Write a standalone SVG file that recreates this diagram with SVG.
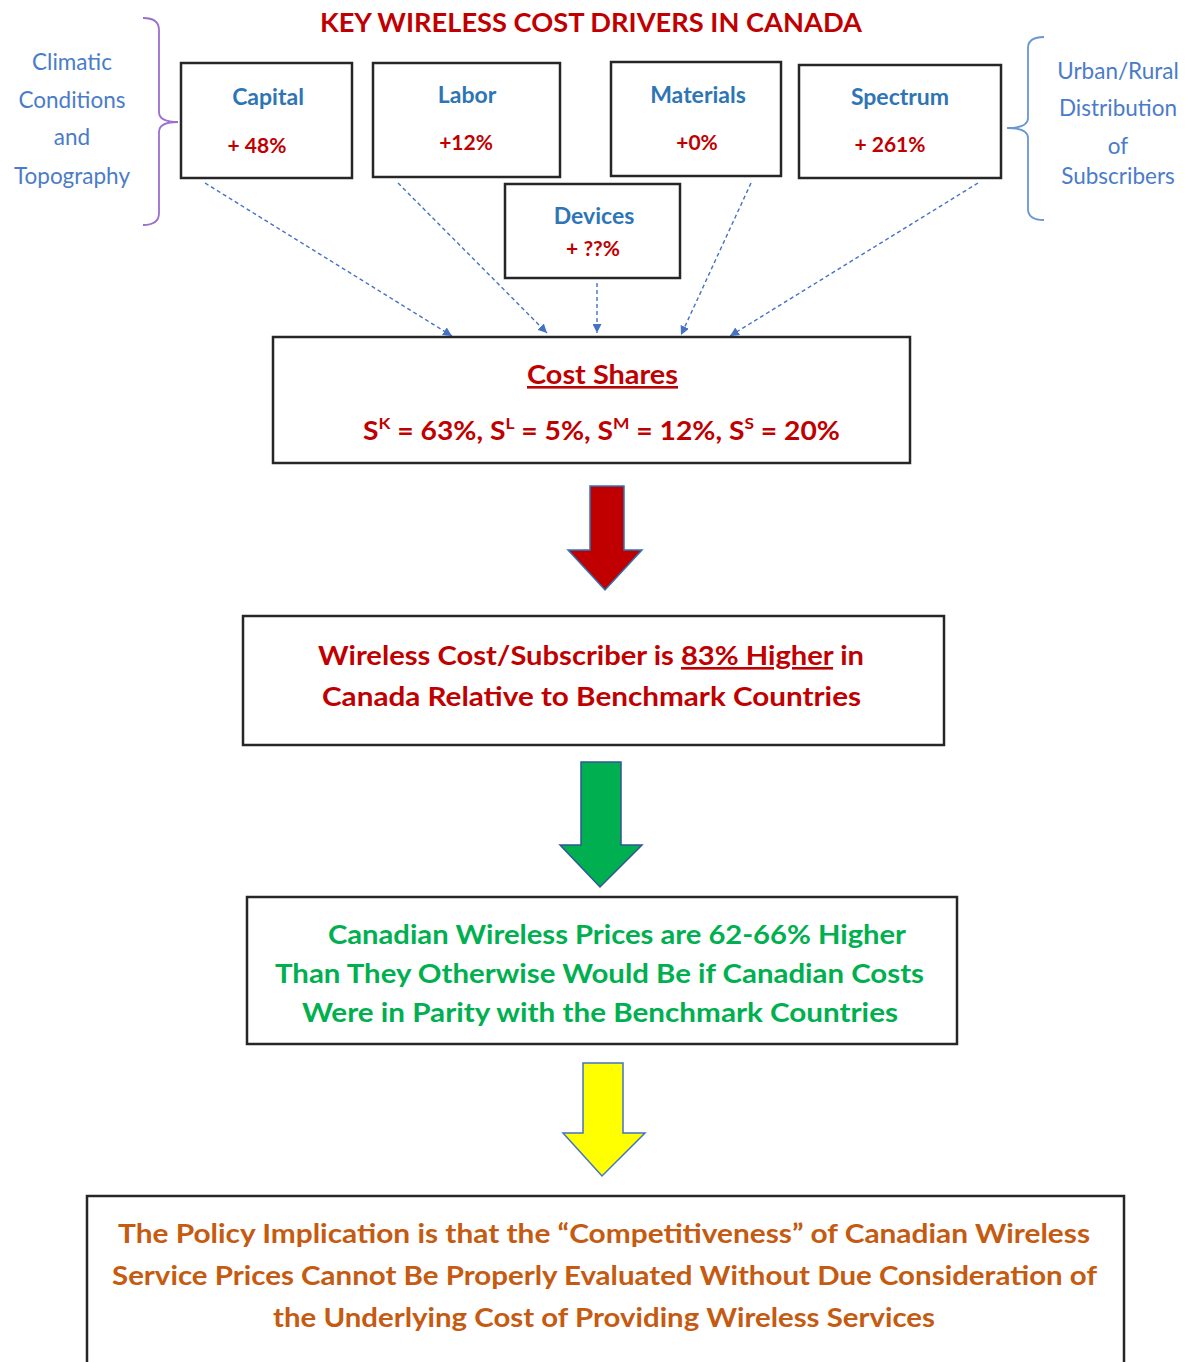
<svg xmlns="http://www.w3.org/2000/svg" width="1188" height="1362" viewBox="0 0 1188 1362">
<style>
  text { font-family: Lato, "Open Sans", "Liberation Sans", sans-serif; }
  .box { fill: #ffffff; stroke: #262626; stroke-width: 2.5; }
  .title { font-weight: bold; fill: #C00000; font-size: 26px; }
  .hdr { font-weight: bold; fill: #2E75B6; font-size: 23px; text-anchor: middle; }
  .pct { font-weight: bold; fill: #C00000; font-size: 21px; text-anchor: middle; }
  .side { fill: #4A7CC9; font-size: 22.5px; text-anchor: middle; }
  .red { font-weight: bold; fill: #C00000; font-size: 26px; }
  .green { font-weight: bold; fill: #00B050; font-size: 26px; }
  .orange { font-weight: bold; fill: #C55A11; font-size: 26px; }
  .dash { fill: none; stroke: #4472C4; stroke-width: 1.4; stroke-dasharray: 4 3; }
</style>
<defs>
  <marker id="ah" viewBox="0 0 10 10" refX="10" refY="5" markerWidth="9" markerHeight="9" markerUnits="userSpaceOnUse" orient="auto">
    <path d="M0,0 L10,5 L0,10 Z" fill="#4472C4"/>
  </marker>
</defs>
<rect width="1188" height="1362" fill="#ffffff"/>

<g id="title">
  <text class="title" x="320" y="32" textLength="542" lengthAdjust="spacingAndGlyphs">KEY WIRELESS COST DRIVERS IN CANADA</text>
</g>

<g id="climatic">
  <path d="M143,18 Q159,18 159,30 L159,112 Q159,122 178,122 Q159,122 159,132 L159,213 Q159,225 143,225" fill="none" stroke="#9B6FD0" stroke-width="1.8"/>
  <text class="side" x="72" y="70">Climatic</text>
  <text class="side" x="72" y="108">Conditions</text>
  <text class="side" x="72" y="145">and</text>
  <text class="side" x="72" y="184">Topography</text>
</g>

<g id="urbanrural">
  <path d="M1044,37 Q1028,37 1028,48 L1028,118 Q1028,128 1007,128 Q1028,128 1028,138 L1028,209 Q1028,220 1044,220" fill="none" stroke="#6A96D6" stroke-width="1.8"/>
  <text class="side" x="1118" y="79">Urban/Rural</text>
  <text class="side" x="1118" y="116">Distribution</text>
  <text class="side" x="1118" y="154">of</text>
  <text class="side" x="1118" y="184">Subscribers</text>
</g>

<g id="capital">
  <rect class="box" x="181" y="63" width="171" height="115"/>
  <text class="hdr" x="268" y="105">Capital</text>
  <text class="pct" x="257" y="153">+ 48%</text>
</g>
<g id="labor">
  <rect class="box" x="373" y="63" width="187" height="114"/>
  <text class="hdr" x="467" y="103">Labor</text>
  <text class="pct" x="466" y="150">+12%</text>
</g>
<g id="materials">
  <rect class="box" x="611" y="62" width="170" height="114"/>
  <text class="hdr" x="698" y="103">Materials</text>
  <text class="pct" x="697" y="150">+0%</text>
</g>
<g id="spectrum">
  <rect class="box" x="799" y="65" width="202" height="113"/>
  <text class="hdr" x="900" y="105">Spectrum</text>
  <text class="pct" x="890" y="152">+ 261%</text>
</g>
<g id="devices">
  <rect class="box" x="505" y="184" width="175" height="94"/>
  <text class="hdr" x="594" y="224">Devices</text>
  <text class="pct" x="593" y="256">+ ??%</text>
</g>

<g id="connectors">
  <line class="dash" x1="205" y1="183" x2="452" y2="336" marker-end="url(#ah)"/>
  <line class="dash" x1="398" y1="183" x2="547" y2="333" marker-end="url(#ah)"/>
  <line class="dash" x1="597" y1="283" x2="597" y2="333" marker-end="url(#ah)"/>
  <line class="dash" x1="751" y1="183" x2="681" y2="335" marker-end="url(#ah)"/>
  <line class="dash" x1="978" y1="183" x2="730" y2="336" marker-end="url(#ah)"/>
  <path d="M590,486 L624,486 L624,550 L642,550 L605,590 L568,550 L590,550 Z" fill="#C00000" stroke="#2E75B6" stroke-width="1.5"/>
  <path d="M581,762 L621,762 L621,845 L642,845 L600,887 L560,845 L581,845 Z" fill="#00B050" stroke="#2F5597" stroke-width="1.5"/>
  <path d="M583,1063 L623,1063 L623,1133 L645,1133 L602,1176 L563,1133 L583,1133 Z" fill="#FFFF00" stroke="#4472C4" stroke-width="1.5"/>
</g>

<g id="costshares">
  <rect class="box" x="273" y="337" width="637" height="126"/>
  <text class="red" x="527" y="384" textLength="151" lengthAdjust="spacingAndGlyphs" text-decoration="underline">Cost Shares</text>
  <text class="red" x="363" y="440" textLength="477" lengthAdjust="spacingAndGlyphs">S<tspan font-size="16" dy="-11">K</tspan><tspan dy="11"> = 63%, S</tspan><tspan font-size="16" dy="-11">L</tspan><tspan dy="11"> = 5%, S</tspan><tspan font-size="16" dy="-11">M</tspan><tspan dy="11"> = 12%, S</tspan><tspan font-size="16" dy="-11">S</tspan><tspan dy="11"> = 20%</tspan></text>
</g>

<g id="costsubscriber">
  <rect class="box" x="243" y="616" width="701" height="129"/>
  <text class="red" x="318" y="665" textLength="546" lengthAdjust="spacingAndGlyphs">Wireless Cost/Subscriber is <tspan text-decoration="underline">83% Higher</tspan> in</text>
  <text class="red" x="322" y="706" textLength="539" lengthAdjust="spacingAndGlyphs">Canada Relative to Benchmark Countries</text>
</g>

<g id="prices">
  <rect class="box" x="247" y="897" width="710" height="147"/>
  <text class="green" x="328" y="944" textLength="578" lengthAdjust="spacingAndGlyphs">Canadian Wireless Prices are 62-66% Higher</text>
  <text class="green" x="275" y="983" textLength="649" lengthAdjust="spacingAndGlyphs">Than They Otherwise Would Be if Canadian Costs</text>
  <text class="green" x="302" y="1022" textLength="596" lengthAdjust="spacingAndGlyphs">Were in Parity with the Benchmark Countries</text>
</g>

<g id="policy">
  <rect class="box" x="87" y="1196" width="1037" height="200"/>
  <text class="orange" x="118" y="1243" textLength="972" lengthAdjust="spacingAndGlyphs">The Policy Implication is that the “Competitiveness” of Canadian Wireless</text>
  <text class="orange" x="112" y="1285" textLength="985" lengthAdjust="spacingAndGlyphs">Service Prices Cannot Be Properly Evaluated Without Due Consideration of</text>
  <text class="orange" x="273" y="1327" textLength="662" lengthAdjust="spacingAndGlyphs">the Underlying Cost of Providing Wireless Services</text>
</g>
</svg>
